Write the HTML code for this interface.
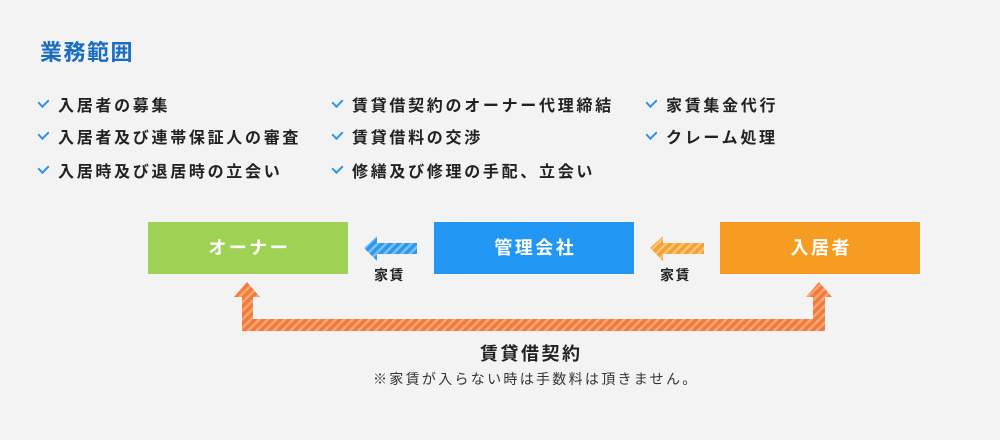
<!DOCTYPE html>
<html><head><meta charset="utf-8"><style>
body{margin:0;width:1000px;height:440px;background:#f3f3f3;position:relative;overflow:hidden;font-family:"Liberation Sans","Noto Sans CJK JP",sans-serif;}
.t{position:absolute;white-space:nowrap}
h1{position:absolute;left:40px;top:35px;margin:0;font-size:22px;letter-spacing:1.5px;color:#1a6cc0;font-weight:bold;font-family:"Liberation Sans","Noto Sans CJK JP",sans-serif}
.li{position:absolute;font-size:16px;letter-spacing:2.7px;font-weight:bold;color:#222;white-space:nowrap}
.li:before{content:"";position:absolute;left:-18px;top:5px;width:5px;height:8px;border-right:2px solid #2a96e8;border-bottom:2px solid #2a96e8;transform:rotate(45deg)}
.box{position:absolute;top:222px;width:200px;height:52px;color:#fff;font-size:18px;letter-spacing:2.5px;text-indent:2.5px;font-weight:bold;text-align:center;line-height:52px}
.lab{position:absolute;font-size:14px;letter-spacing:1.5px;font-weight:bold;color:#222}
</style></head><body>
<h1>業務範囲</h1>
<div class="li" style="left:58px;top:92px">入居者の募集</div>
<div class="li" style="left:58px;top:124px">入居者及び連帯保証人の審査</div>
<div class="li" style="left:58px;top:158px">入居時及び退居時の立会い</div>
<div class="li" style="left:352px;top:92px">賃貸借契約のオーナー代理締結</div>
<div class="li" style="left:352px;top:124px">賃貸借料の交渉</div>
<div class="li" style="left:352px;top:158px">修繕及び修理の手配、立会い</div>
<div class="li" style="left:666px;top:92px">家賃集金代行</div>
<div class="li" style="left:666px;top:124px">クレーム処理</div>
<div class="box" style="left:148px;background:#9fd254">オーナー</div>
<div class="box" style="left:434px;background:#2196f3">管理会社</div>
<div class="box" style="left:720px;background:#f79c22">入居者</div>
<svg width="1000" height="440" style="position:absolute;left:0;top:0">
<defs>
<pattern id="pb" width="6" height="6" patternUnits="userSpaceOnUse" patternTransform="rotate(45)"><rect width="6" height="6" fill="#2f98ee"/><rect width="2.5" height="6" fill="#7cc0f6"/></pattern>
<pattern id="po" width="6" height="6" patternUnits="userSpaceOnUse" patternTransform="rotate(45)"><rect width="6" height="6" fill="#f5a030"/><rect width="2.5" height="6" fill="#f9c57a"/></pattern>
<pattern id="pr" width="6" height="6" patternUnits="userSpaceOnUse" patternTransform="rotate(45)"><rect width="6" height="6" fill="#f37a38"/><rect width="2.5" height="6" fill="#f8a677"/></pattern>
</defs>
<polygon points="364,248 377,236 377,243 417,243 417,254 377,254 377,261" fill="url(#pb)"/>
<polygon points="650,248 663,236 663,243 704,243 704,254 663,254 663,261" fill="url(#po)"/>
<polygon points="234,297 247,282 260,297 253,297 253,319 813,319 813,297 806,297 819,282 832,297 825,297 825,331 242,331 242,297" fill="url(#pr)"/>
</svg>
<div class="lab" style="left:374px;top:265px">家賃</div>
<div class="lab" style="left:660px;top:265px">家賃</div>
<div class="t" style="left:480px;top:340px;font-size:18px;letter-spacing:2.5px;font-weight:bold;color:#222">賃貸借契約</div>
<div class="t" style="left:373px;top:369px;font-size:14px;letter-spacing:2.3px;color:#333">※家賃が入らない時は手数料は頂きません。</div>
</body></html>
